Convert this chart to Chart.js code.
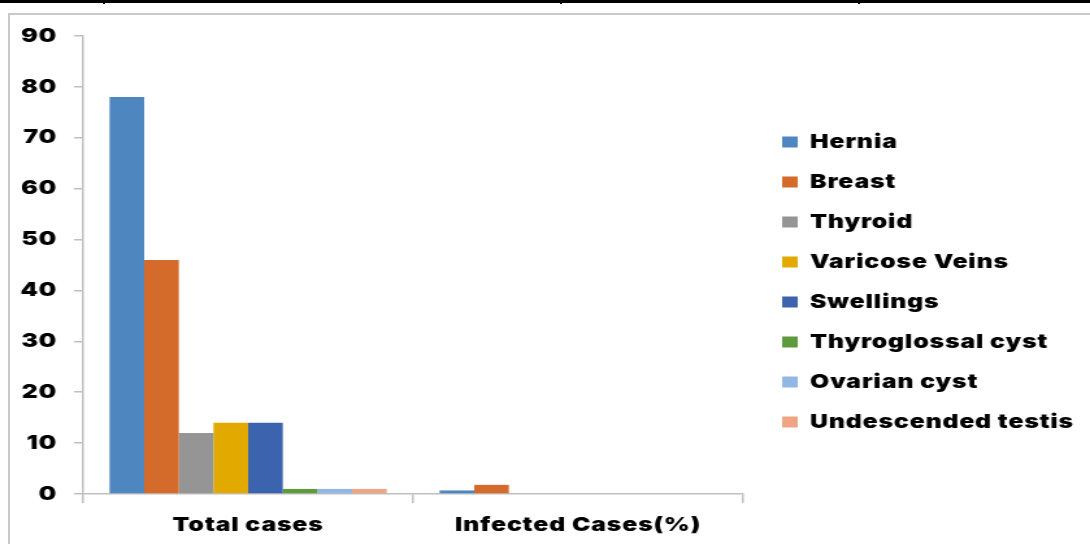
<!DOCTYPE html>
<html>
<head>
<meta charset="utf-8">
<title>Cases by condition</title>
<script src="https://cdn.jsdelivr.net/npm/chart.js@4/dist/chart.umd.min.js"></script>
<style>
  html, body { margin: 0; padding: 0; background: #ffffff; }
  body { width: 1090px; height: 544px; position: relative; overflow: hidden; }
  #wrap {
    position: absolute; left: 0; top: 0; width: 839px; height: 544px;
    transform: scaleX(1.29917); transform-origin: 0 0;
  }
  .rule { position: absolute; }
  #topRule { left: 0; top: 0; width: 1090px; height: 3px; background: #000; }
  .cellTick { top: 0; width: 2px; height: 4px; background: #000; }
  #frameTop { left: 8px; top: 13px; width: 1082px; height: 2px; background: #c9c9c9; }
  #frameLeft { left: 8px; top: 13px; width: 2px; height: 531px; background: #c9c9c9; }
</style>
</head>
<body>
<div id="topRule" class="rule"></div>
<div class="rule cellTick" style="left:103px"></div>
<div class="rule cellTick" style="left:560px"></div>
<div class="rule cellTick" style="left:858px"></div>
<div id="frameTop" class="rule"></div>
<div id="frameLeft" class="rule"></div>
<div id="wrap"><canvas id="c" width="839" height="544"></canvas></div>
<script>
// Groups along the x axis
const categories = ['Total cases', 'Infected Cases(%)'];

// One series per condition: [total cases, infected cases %]
const seriesNames = ['Hernia', 'Breast', 'Thyroid', 'Varicose Veins', 'Swellings',
  'Thyroglossal cyst', 'Ovarian cyst', 'Undescended testis'];
const hernia = [78, 0.7];
const breast = [46, 1.8];
const thyroid = [12, 0];
const varicoseVeins = [14, 0];
const swellings = [14, 0];
const thyroglossalCyst = [1, 0];
const ovarianCyst = [1, 0];
const undescendedTestis = [1, 0];

// Value axis ticks
const yTicks = [0, 10, 20, 30, 40, 50, 60, 70, 80, 90];

const seriesColors = ['#4e87bf', '#d46b2a', '#959595', '#e2aa00', '#3c64ae',
  '#5e9a3c', '#93b7e3', '#efa584'];

const seriesValues = [hernia, breast, thyroid, varicoseVeins, swellings,
  thyroglossalCyst, ovarianCyst, undescendedTestis];

const datasets = seriesNames.map((name, i) => ({
  label: name,
  data: seriesValues[i],
  backgroundColor: seriesColors[i],
  borderWidth: 0,
  categoryPercentage: 0.84,
  barPercentage: 1.0
}));

const labelFont = { family: 'Inter, "DejaVu Sans", sans-serif', size: 19, weight: '900' };
const axisGray = '#c0c0c0';
const CANVAS_W = 839;
const LEGEND_W = 267;

// Slightly open tracking for all chart text
const textTracking = {
  id: 'textTracking',
  beforeUpdate(chart) { chart.ctx.letterSpacing = '0.7px'; },
  beforeDraw(chart) { chart.ctx.letterSpacing = '0.7px'; }
};

// Keeps the legend column at a fixed width and position beside the plot
const legendPlacement = {
  id: 'legendPlacement',
  beforeUpdate(chart) {
    const lg = chart.legend;
    if (lg && !lg.__fixedWidth) {
      const baseFit = lg.fit;
      lg.fit = function () { baseFit.call(this); this.width = LEGEND_W; };
      lg.__fixedWidth = true;
    }
  },
  afterLayout(chart) {
    const lg = chart.legend;
    if (!lg) return;
    lg.left = 581;
    lg.right = CANVAS_W;
    lg.top = 111.5;
    lg.bottom = 544;
  }
};

new Chart(document.getElementById('c'), {
  type: 'bar',
  data: { labels: categories, datasets },
  plugins: [textTracking, legendPlacement],
  options: {
    responsive: false,
    animation: false,
    events: [],
    layout: { padding: { top: 36, right: 0, bottom: 0, left: 0 } },
    plugins: {
      tooltip: { enabled: false },
      legend: {
        display: true,
        position: 'right',
        align: 'start',
        labels: {
          boxWidth: 12,
          boxHeight: 11,
          padding: 21,
          color: '#000000',
          font: labelFont
        }
      }
    },
    scales: {
      x: {
        offset: true,
        afterFit(scale) { scale.height = 50; },
        grid: {
          offset: true,
          drawOnChartArea: false,
          drawTicks: true,
          tickLength: 9,
          color: axisGray,
          lineWidth: 1.5
        },
        border: { display: true, color: axisGray, width: 1.5 },
        ticks: { color: '#000000', font: labelFont, padding: 11, maxRotation: 0 }
      },
      y: {
        min: 0,
        max: 90,
        afterFit(scale) { scale.width = 64; },
        afterBuildTicks(scale) { scale.ticks = yTicks.map(v => ({ value: v })); },
        grid: {
          drawOnChartArea: false,
          drawTicks: true,
          tickLength: 7,
          color: axisGray,
          lineWidth: 1.5
        },
        border: { display: true, color: axisGray, width: 1.5 },
        ticks: { color: '#000000', font: labelFont, padding: 13 }
      }
    }
  }
});
</script>
</body>
</html>
